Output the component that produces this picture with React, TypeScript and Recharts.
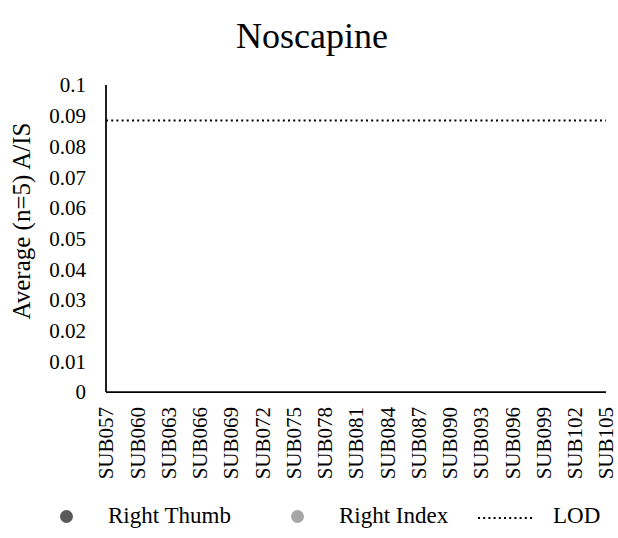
import { ComposedChart, XAxis, YAxis, Scatter, Line } from "recharts";

// subjects on the category axis (every third one is labelled)
const subjects = [
  "SUB057", "SUB058", "SUB059", "SUB060", "SUB061", "SUB062", "SUB063",
  "SUB064", "SUB065", "SUB066", "SUB067", "SUB068", "SUB069", "SUB070",
  "SUB071", "SUB072", "SUB073", "SUB074", "SUB075", "SUB076", "SUB077",
  "SUB078", "SUB079", "SUB080", "SUB081", "SUB082", "SUB083", "SUB084",
  "SUB085", "SUB086", "SUB087", "SUB088", "SUB089", "SUB090", "SUB091",
  "SUB092", "SUB093", "SUB094", "SUB095", "SUB096", "SUB097", "SUB098",
  "SUB099", "SUB100", "SUB101", "SUB102", "SUB103", "SUB104", "SUB105",
];

// no detections above LOD for noscapine -> nothing plotted
const rightThumb: { subject: string; value: number }[] = [];
const rightIndex: { subject: string; value: number }[] = [];

const LOD = 0.0884;

const yTicks = [0, 0.01, 0.02, 0.03, 0.04, 0.05, 0.06, 0.07, 0.08, 0.09, 0.1];

const rows = subjects.map((s) => ({ subject: s, lod: LOD }));

const FONT = '"Times New Roman", "Liberation Serif", Tinos, "DejaVu Serif", serif';
const DARK = "#595959";
const LIGHT = "#a6a6a6";

const XTick = (props: any) => {
  const { x, y, payload } = props;
  return (
    <text
      x={x}
      y={y}
      transform={`rotate(-90, ${x}, ${y})`}
      textAnchor="end"
      dx={-7}
      dy="0.35em"
      fontSize={21}
      fontFamily={FONT}
      fill="#000"
    >
      {payload.value}
    </text>
  );
};

export default function App() {
  return (
    <div
      style={{
        position: "absolute",
        left: 0,
        top: 0,
        width: 618,
        height: 538,
        background: "#fff",
        fontFamily: FONT,
        color: "#000",
        overflow: "hidden",
      }}
    >
      <div
        style={{
          position: "absolute",
          left: 0,
          width: 618,
          top: 15,
          textAlign: "center",
          fontSize: 36,
          lineHeight: "42px",
          paddingLeft: 6,
          boxSizing: "border-box",
        }}
      >
        Noscapine
      </div>

      <div
        style={{
          position: "absolute",
          left: 22,
          top: 221,
          transform: "translate(-50%, -50%) rotate(-90deg)",
          whiteSpace: "nowrap",
          fontSize: 25,
          lineHeight: "28px",
        }}
      >
        Average (n=5) A/IS
      </div>

      <ComposedChart
        width={618}
        height={538}
        data={rows}
        margin={{ top: 85, right: 12, bottom: 0, left: 0 }}
      >
        <XAxis
          dataKey="subject"
          type="category"
          interval={2}
          height={146}
          tickLine={false}
          tickSize={6}
          tick={<XTick />}
          axisLine={{ stroke: "#000", strokeWidth: 1.75 }}
        />
        <YAxis
          type="number"
          domain={[0, 0.1]}
          ticks={yTicks}
          interval={0}
          width={106}
          tickLine={false}
          tickSize={6}
          tickMargin={14}
          axisLine={{ stroke: "#000", strokeWidth: 1.75 }}
          tick={{ fill: "#000", fontSize: 21, fontFamily: FONT }}
        />
        <Scatter
          name="Right Thumb"
          data={rightThumb}
          dataKey="value"
          fill={DARK}
          isAnimationActive={false}
        />
        <Scatter
          name="Right Index"
          data={rightIndex}
          dataKey="value"
          fill={LIGHT}
          isAnimationActive={false}
        />
        <Line
          name="LOD"
          dataKey="lod"
          stroke="#000"
          strokeWidth={2}
          strokeDasharray="2 3.2"
          dot={false}
          activeDot={false}
          isAnimationActive={false}
        />
      </ComposedChart>

      {/* legend */}
      <div style={{ position: "absolute", left: 60, top: 510, width: 13, height: 13, borderRadius: 7, background: DARK }} />
      <div style={{ position: "absolute", left: 108, top: 502, fontSize: 23, lineHeight: "28px", whiteSpace: "nowrap" }}>Right Thumb</div>
      <div style={{ position: "absolute", left: 291, top: 510, width: 13, height: 13, borderRadius: 7, background: LIGHT }} />
      <div style={{ position: "absolute", left: 339, top: 502, fontSize: 23, lineHeight: "28px", whiteSpace: "nowrap" }}>Right Index</div>
      <svg style={{ position: "absolute", left: 477, top: 510 }} width={58} height={14}>
        <line x1={1} y1={8} x2={57} y2={8} stroke="#000" strokeWidth={2} strokeDasharray="2 3.2" />
      </svg>
      <div style={{ position: "absolute", left: 553, top: 502, fontSize: 23, lineHeight: "28px", whiteSpace: "nowrap" }}>LOD</div>
    </div>
  );
}
